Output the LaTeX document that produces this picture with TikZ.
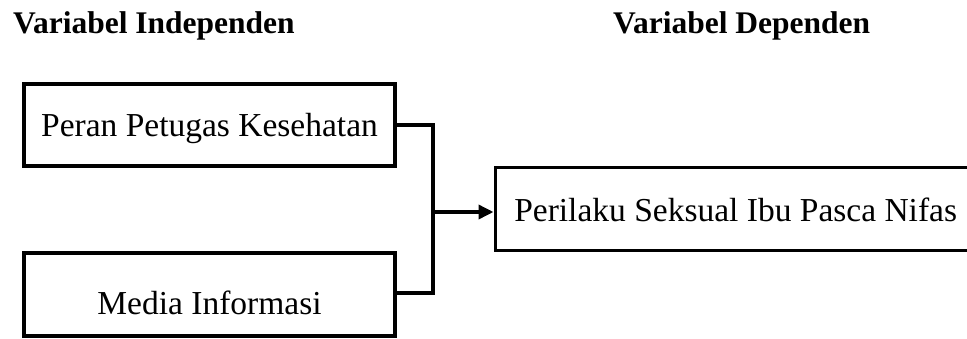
\documentclass[tikz,border=0pt]{standalone}
\usepackage{fontspec}
\setmainfont{Liberation Serif}
\usetikzlibrary{arrows.meta}
\begin{document}
\begin{tikzpicture}[x=1pt,y=1pt,
  title/.style={font=\fontsize{31.5}{36}\selectfont\bfseries, inner sep=0pt, anchor=base west},
  varbox/.style={draw, line width=3.5pt, rectangle, inner sep=0pt,
    font=\fontsize{33.5}{38}\selectfont, text depth=0pt},
  link/.style={line width=3.5pt},
]
\clip (0,0) rectangle (967,-338);
\useasboundingbox (0,0) rectangle (967,-338);

\node[title] (t1) at (13,-33) {Variabel Independen};
\node[title] (t2) at (613,-33) {Variabel Dependen};

\node[varbox, minimum width=371, minimum height=82, text height=23.4pt] (b1) at (209.5,-125) {Peran Petugas Kesehatan};
\node[varbox, minimum width=371, minimum height=83, text height=39pt] (b2) at (209.5,-294.5) {Media Informasi};
\node[varbox, anchor=west, minimum height=83, text width=520pt, inner xsep=19pt, align=flush left, text height=25.4pt] (b3) at (493.5,-209) {Perilaku Seksual Ibu Pasca Nifas};

\coordinate (j) at (433,-212);
\draw[link] (b1.east) -| (j);
\draw[link] (b2.east |- 0,-293) -| (j);
\draw[link, -{Triangle[length=15pt,width=14pt]}] (j) -- (j -| b3.west);
\end{tikzpicture}
\end{document}
